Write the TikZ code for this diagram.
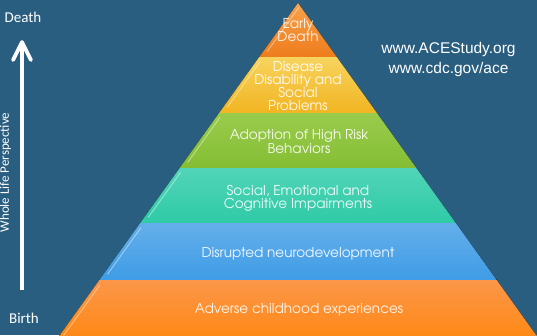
\documentclass[tikz,border=0pt]{standalone}
\usepackage{fontspec}
\setmainfont{Liberation Sans}
\newfontfamily\tierfont{texgyreadventor-regular.otf}
\newfontfamily\calfont{Carlito}
\definecolor{bg}{HTML}{2A5E80}
\definecolor{edT}{HTML}{F6A24C}\definecolor{edB}{HTML}{EE7C1C}
\definecolor{diT}{HTML}{F7D45E}\definecolor{diB}{HTML}{F2B422}
\definecolor{adT}{HTML}{9ACB4C}\definecolor{adB}{HTML}{84BE34}
\definecolor{soT}{HTML}{52D4B8}\definecolor{soB}{HTML}{2ECAA6}
\definecolor{ndT}{HTML}{64AFEA}\definecolor{ndB}{HTML}{3F9CE6}
\definecolor{acT}{HTML}{FB964A}\definecolor{acB}{HTML}{FF870E}
\newcommand\pyrtier[4]{%
  \pgfmathsetmacro\pla{298-0.717*(#1-3)}%
  \pgfmathsetmacro\pra{298+0.717*(#1-3)}%
  \pgfmathsetmacro\plb{298-0.717*(#2-3)}%
  \pgfmathsetmacro\prb{298+0.717*(#2-3)}%
  \fill[top color=#3,bottom color=#4] (\pla,#1) -- (\pra,#1) -- (\prb,#2) -- (\plb,#2) -- cycle;
  \draw[black,opacity=0.15,line width=0.6] (\plb,#2) -- (\prb,#2);
  \draw[white,opacity=0.45,line width=0.9] ($(\pla,#1)!0.08!(\plb,#2)+(4,0)$) -- ($(\pla,#1)!0.9!(\plb,#2)+(4,0)$);
}
\usetikzlibrary{calc}
\tikzset{
  tiertext/.style={text=white,opacity=0.92,align=center,font=\tierfont\fontsize{13.6}{13}\selectfont,inner sep=0pt},
  sidetext/.style={text=white,font=\calfont\fontsize{15}{18}\selectfont,inner sep=0pt},
}
\begin{document}
\begin{tikzpicture}[x=1pt,y=-1pt]
\fill[bg] (0,0) rectangle (537,335);
\useasboundingbox (0,0) rectangle (537,335);
\clip (0,0) rectangle (537,335);
% tiers
\pyrtier{3}{57}{edT}{edB}
\pyrtier{57}{113}{diT}{diB}
\pyrtier{113}{168}{adT}{adB}
\pyrtier{168}{223}{soT}{soB}
\pyrtier{223}{280}{ndT}{ndB}
\pyrtier{280}{345}{acT}{acB}
% tier labels
\node[tiertext] (t1) at (298,30.5) {Early\\Death};
\node[tiertext] (t2) at (298,86.5) {Disease\\Disability and\\Social\\Problems};
\node[tiertext,font=\tierfont\fontsize{13.6}{14}\selectfont] (t3) at (299,142) {Adoption of High Risk\\Behaviors};
\node[tiertext] (t4) at (298,198.5) {Social, Emotional and\\Cognitive Impairments};
\node[tiertext] (t5) at (298,254) {Disrupted neurodevelopment};
\node[tiertext] (t6) at (299,310) {Adverse childhood experiences};
% urls
\node[text=white,align=center,font=\fontsize{15.5}{20}\selectfont,inner sep=0pt] (url) at (448.5,59) {www.ACEStudy.org\\www.cdc.gov/ace};
% left axis
\node[sidetext] (death) at (23,17) {Death};
\node[sidetext] (birth) at (24,318) {Birth};
\node[text=white,font=\calfont\fontsize{13}{15}\selectfont,inner sep=0pt,rotate=90,anchor=base] (wlp) at (9,172.5) {Whole Life Perspective};
\coordinate (atip) at (22,42);
\coordinate (abot) at (22,290);
\draw[white,line width=3.6] (abot) -- (atip);
\draw[white,line width=3.8,line cap=round,line join=round] ($(atip)+(-9,18)$) -- (atip) -- ($(atip)+(9,18)$);
\end{tikzpicture}
\end{document}
